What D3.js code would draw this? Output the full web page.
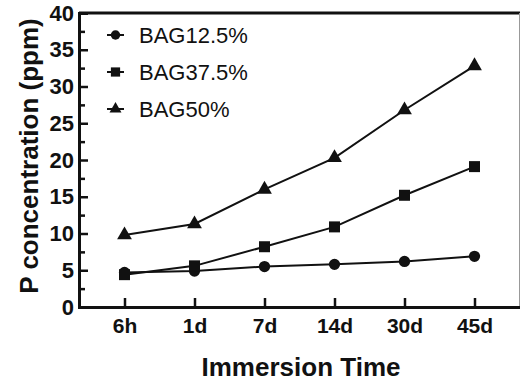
<!DOCTYPE html>
<html>
<head>
<meta charset="utf-8">
<script src="https://cdn.jsdelivr.net/npm/d3@7"></script>
<style>
  html, body { margin: 0; padding: 0; background: #fff; }
  svg { display: block; font-family: "Liberation Sans", Arial, Helvetica, sans-serif; }
</style>
</head>
<body>
<svg id="chart" width="521" height="384"></svg>
<script>
// Immersion time points and measured P concentration (ppm) per BAG content
const times = ["6h", "1d", "7d", "14d", "30d", "45d"];
const bag125 = [4.7, 4.9, 5.5, 5.8, 6.2, 6.9];
const bag375 = [4.4, 5.6, 8.2, 10.9, 15.2, 19.1];
const bag50  = [9.8, 11.3, 16.0, 20.3, 26.8, 32.8];
const seriesNames = ["BAG12.5%", "BAG37.5%", "BAG50%"];
const yTicks = [0, 5, 10, 15, 20, 25, 30, 35, 40];
const yMinorTicks = [2.5, 7.5, 12.5, 17.5, 22.5, 27.5, 32.5, 37.5];

const svg = d3.select("#chart");
const plotLeft = 79, plotRight = 520, plotTop = 13, plotBottom = 307;

const x = d3.scalePoint().domain(times).range([plotLeft, plotRight]).padding(0.65);
const y = d3.scaleLinear().domain([0, 40]).range([plotBottom, plotTop]);

const symbols = [d3.symbolCircle, d3.symbolSquare, d3.symbolTriangle];
const symbolSizes = [100, 121, 95];
const legendSizes = [70, 85, 62];

const series = [bag125, bag375, bag50].map((vals, i) => ({
  name: seriesNames[i], symbol: symbols[i], size: symbolSizes[i], lsize: legendSizes[i],
  points: times.map((t, j) => ({ t, v: vals[j] }))
}));

// frame: thick top edge, thin right edge
svg.append("line").attr("x1", plotLeft).attr("x2", plotRight).attr("y1", plotTop).attr("y2", plotTop)
  .attr("stroke", "#111").attr("stroke-width", 3);
svg.append("line").attr("x1", plotRight - 0.5).attr("x2", plotRight - 0.5).attr("y1", plotTop).attr("y2", plotBottom)
  .attr("stroke", "#999").attr("stroke-width", 1);

// y axis with inward ticks
const yAxis = svg.append("g").attr("transform", `translate(${plotLeft},0)`)
  .call(d3.axisLeft(y).tickValues(yTicks).tickSize(-9).tickPadding(5).tickFormat(d3.format("d")));
yAxis.select(".domain").attr("stroke", "#111").attr("stroke-width", 3);
yAxis.selectAll(".tick line").attr("stroke", "#111").attr("stroke-width", 2.5);
yAxis.selectAll("text").attr("font-size", 22).attr("font-weight", "bold").attr("fill", "#111")
  .attr("font-family", "Liberation Sans, Arial, sans-serif");

const yMinor = svg.append("g").attr("transform", `translate(${plotLeft},0)`)
  .call(d3.axisLeft(y).tickValues(yMinorTicks).tickSize(-6).tickFormat(""));
yMinor.select(".domain").remove();
yMinor.selectAll(".tick line").attr("stroke", "#111").attr("stroke-width", 2.5);

// x axis with inward ticks
const xAxis = svg.append("g").attr("transform", `translate(0,${plotBottom})`)
  .call(d3.axisBottom(x).tickSize(-9).tickPadding(11));
xAxis.select(".domain").attr("stroke", "#111").attr("stroke-width", 3)
  .attr("d", `M${plotLeft},0.5H${plotRight}`);
xAxis.selectAll(".tick line").attr("stroke", "#111").attr("stroke-width", 2.5);
xAxis.selectAll("text").attr("font-size", 21).attr("font-weight", "bold").attr("fill", "#111")
  .attr("font-family", "Liberation Sans, Arial, sans-serif");

// axis titles
svg.append("text").attr("x", 301).attr("y", 376)
  .attr("text-anchor", "middle").attr("font-size", 26).attr("font-weight", "bold").attr("fill", "#111")
  .text("Immersion Time");
svg.append("text").attr("transform", "translate(38,156) rotate(-90)")
  .attr("text-anchor", "middle").attr("font-size", 26).attr("font-weight", "bold").attr("fill", "#111")
  .text("P concentration (ppm)");

// series lines and markers
const line = d3.line().x(d => x(d.t)).y(d => y(d.v));
series.forEach(s => {
  svg.append("path").datum(s.points).attr("d", line)
    .attr("fill", "none").attr("stroke", "#111").attr("stroke-width", 2);
  svg.append("g").selectAll("path").data(s.points).join("path")
    .attr("transform", d => `translate(${x(d.t)},${y(d.v)})`)
    .attr("d", d3.symbol().type(s.symbol).size(s.size))
    .attr("fill", "#111");
});

// legend
const legend = svg.append("g");
series.forEach((s, i) => {
  const cy = 35 + i * 37;
  legend.append("line").attr("x1", 107).attr("x2", 124).attr("y1", cy).attr("y2", cy)
    .attr("stroke", "#111").attr("stroke-width", 2);
  legend.append("path").attr("transform", `translate(115.5,${cy})`)
    .attr("d", d3.symbol().type(s.symbol).size(s.lsize)).attr("fill", "#111");
  legend.append("text").attr("x", 139).attr("y", cy).attr("dy", "0.36em")
    .attr("font-size", 22).attr("fill", "#111").text(s.name);
});
</script>
</body>
</html>
